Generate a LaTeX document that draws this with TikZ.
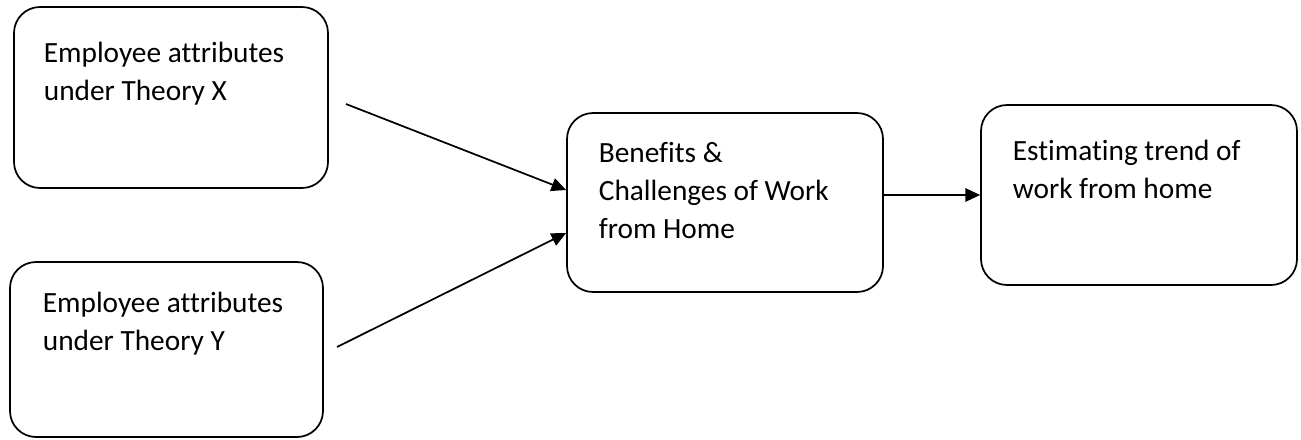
\documentclass[tikz,border=0pt]{standalone}
\usepackage{fontspec}
\setmainfont[Ligatures=NoCommon]{Carlito}
\usetikzlibrary{arrows.meta,calc}

\begin{document}
\begin{tikzpicture}[x=0.75pt, y=-0.75pt, >={Triangle[length=11pt,width=10pt]}, line width=1.3pt,
    stage/.style={draw, rounded corners=19.5pt, inner sep=0pt},
    txt/.style={anchor=base west, align=left, inner sep=0pt, font=\fontsize{22}{28.5}\selectfont}]
    \useasboundingbox (0,0) rectangle (1301,439);

    % the four boxes
    \node[stage, minimum width=235.5pt, minimum height=135.75pt] (boxX) at (171,97.5) {};
    \node[stage, minimum width=234.75pt, minimum height=131.25pt] (boxY) at (166.5,349.5) {};
    \node[stage, minimum width=237pt, minimum height=134.25pt] (mid) at (725,202.5) {};
    \node[stage, minimum width=237pt, minimum height=135pt] (trend) at (1139,195) {};

    % their texts (base = baseline of the last line)
    \node[txt] (tX) at (43,100) {Employee attributes\\under Theory X};
    \node[txt] (tY) at (42,350) {Employee attributes\\under Theory Y};
    \node[txt] (tM) at (598,238) {Benefits \&\\Challenges of Work\\from Home};
    \node[txt] (tT) at (1012,198) {Estimating trend of\\work from home};

    % arrows
    \coordinate (tailX) at (346,104);
    \coordinate (tailY) at (337,347);
    \draw[->] (tailX) -- ($(mid.west)+(0,-12.5)$);
    \draw[->] (tailY) -- ($(mid.west)+(0,30.5)$);
    \draw[->] (mid.east |- trend.west) -- (trend.west);
\end{tikzpicture}
\end{document}
